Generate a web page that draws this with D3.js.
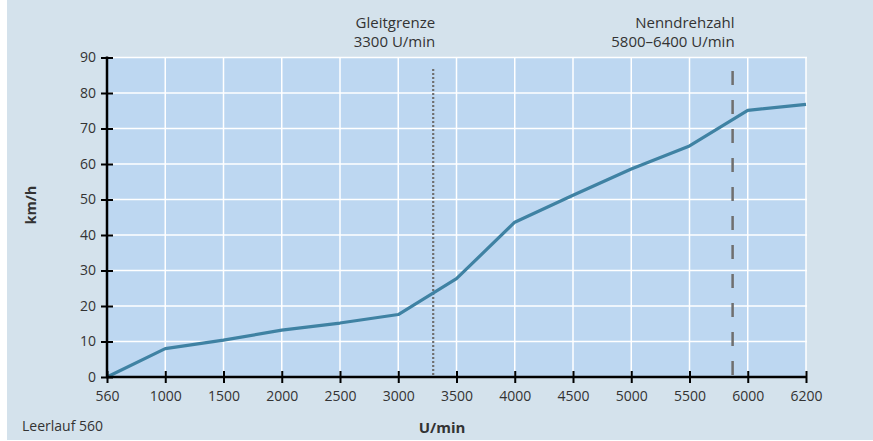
<!DOCTYPE html>
<html><head><meta charset="utf-8">
<script src="https://cdn.jsdelivr.net/npm/d3@7"></script>
<style>
html,body{margin:0;padding:0;background:#fff;}
svg{display:block;font-family:"Open Sans","Noto Sans",sans-serif;}
</style></head>
<body>
<svg id="chart" width="873" height="441"></svg>
<script>
const xTicks = [560,1000,1500,2000,2500,3000,3500,4000,4500,5000,5500,6000,6200];
const rpm    = [560,1000,1500,2000,2500,3000,3500,4000,4500,5000,5500,6000,6200];
const speed  = [0,8,10.4,13.2,15.2,17.6,27.7,43.6,51.2,58.6,65.1,75.1,76.8];
const yTicks = [0,10,20,30,40,50,60,70,80,90];
const markers = [
  {rpm:3300, lines:["Gleitgrenze","3300 U/min"], style:"dot"},
  {rpm:5870, lines:["Nenndrehzahl","5800–6400 U/min"], style:"dash"}
];
const xTitle = "U/min", yTitle = "km/h", note = "Leerlauf 560";

const svg = d3.select("#chart");
const L = 107, R = 806, T = 57.5, B = 377;
const step = (R - L) / (xTicks.length - 1);
const x = d3.scaleLinear().domain(xTicks).range(xTicks.map((d,i)=>L + i*step));
const y = d3.scaleLinear().domain([0,90]).range([B,T]);

svg.append("rect").attr("x",7).attr("y",0).attr("width",866).attr("height",440).attr("fill","#d4e2ec");
svg.append("rect").attr("x",L).attr("y",T).attr("width",R-L).attr("height",B-T).attr("fill","#bdd7f1");

// grid
svg.append("g").selectAll("line").data(yTicks.slice(1)).join("line")
  .attr("x1",L).attr("x2",R+1).attr("y1",d=>y(d)).attr("y2",d=>y(d))
  .attr("stroke","#fff").attr("stroke-width",1.5);
svg.append("g").selectAll("line").data(xTicks.slice(1)).join("line")
  .attr("x1",d=>x(d)).attr("x2",d=>x(d)).attr("y1",T-0.5).attr("y2",B)
  .attr("stroke","#fff").attr("stroke-width",1.5);

// markers
markers.forEach(m=>{
  const xm = x(m.rpm);
  svg.append("line").attr("x1",xm).attr("x2",xm)
    .attr("y1", m.style==="dot"?69:71).attr("y2",B)
    .attr("stroke","#6f6f6f").attr("stroke-width", m.style==="dot"?2.2:2.5)
    .attr("stroke-dasharray", m.style==="dot"?"2,2":"14,15");
  const t = svg.append("text").attr("x",xm+2).attr("y",28).attr("text-anchor","end")
    .attr("font-size",15).attr("fill","#333");
  m.lines.forEach((s,i)=>t.append("tspan").attr("x",xm+2).attr("dy",i?19:0).text(s));
});

// data line
svg.append("path").datum(rpm.map((r,i)=>[r,speed[i]]))
  .attr("d", d3.line().x(d=>x(d[0])).y(d=>y(d[1])))
  .attr("fill","none").attr("stroke","#3f82a3").attr("stroke-width",3.2)
  .attr("stroke-linejoin","round");

// axes
const yAxis = svg.append("g").attr("transform",`translate(${L},0)`)
  .call(d3.axisLeft(y).tickValues(yTicks).tickSize(6).tickPadding(5));
yAxis.select(".domain").remove();
yAxis.selectAll(".tick line").attr("x1",6).attr("stroke","#000").attr("stroke-width",2);
yAxis.selectAll(".tick text").attr("font-size",14).attr("fill","#333").attr("font-family","Open Sans");

const xAxis = svg.append("g").attr("transform",`translate(0,${B})`)
  .call(d3.axisBottom(x).tickValues(xTicks).tickFormat(d3.format("d")).tickSize(6).tickPadding(8));
xAxis.select(".domain").remove();
xAxis.selectAll(".tick line").attr("y1",-6).attr("stroke","#000").attr("stroke-width",2);
xAxis.selectAll(".tick text").attr("font-size",14).attr("fill","#333").attr("font-family","Open Sans");

svg.append("line").attr("x1",L).attr("x2",L).attr("y1",T-1).attr("y2",B+1).attr("stroke","#000").attr("stroke-width",2.5);
svg.append("line").attr("x1",L-1).attr("x2",R+1).attr("y1",B).attr("y2",B).attr("stroke","#000").attr("stroke-width",2.5);

// titles
svg.append("text").attr("transform","translate(36,205) rotate(-90)").attr("text-anchor","middle")
  .attr("font-size",14.5).attr("font-weight","bold").attr("fill","#333").text(yTitle);
svg.append("text").attr("x",442).attr("y",433).attr("text-anchor","middle")
  .attr("font-size",15).attr("font-weight","bold").attr("fill","#333").text(xTitle);
svg.append("text").attr("x",22).attr("y",431)
  .attr("font-size",14).attr("fill","#333").text(note);
</script>
</body></html>
